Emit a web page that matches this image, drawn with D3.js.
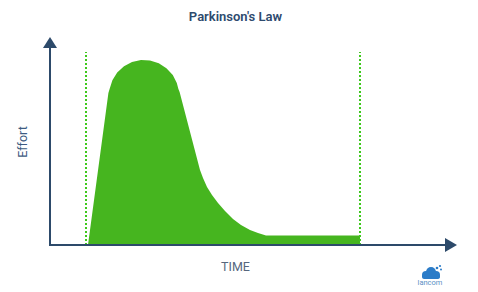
<!DOCTYPE html>
<html><head><meta charset="utf-8">
<script src="https://cdn.jsdelivr.net/npm/d3@7"></script>
<style>body{margin:0;background:#fff}svg{display:block}</style>
</head><body>
<svg id="c" width="478" height="292"></svg>
<script>
// Data (time units 0..100, effort units 0..100)
const time   = [9.5, 14.6, 14.9, 15.6, 16.8, 18.5, 20.5, 22.75, 25, 27.2, 29.1, 30.7, 31.7, 32.1, 32.4, 37.5, 38.25, 39.25, 40.5, 42, 43.75, 45.75, 47.75, 50, 52, 54, 77.5];
const effort = [0,   76,   78,   82.4, 86.25, 89.35, 91.45, 92.45, 92.25, 90.85, 88.4, 85, 81, 78, 76.5, 37.5, 33.5, 29, 25, 21, 17, 13, 10, 7.5, 6, 4.75, 4.75];
const deadlines = [9, 77.5];
const titleText = "Parkinson's Law";
const xLabel = "TIME";
const yLabel = "Effort";

const svg = d3.select("#c");
const x = d3.scaleLinear().domain([0, 100]).range([50, 450]);
const y = d3.scaleLinear().domain([0, 100]).range([245, 45]);
const axisColor = "#2d4a6a";

const pts = time.map((t, i) => ({t, e: effort[i]}));
svg.append("path")
  .datum(pts)
  .attr("fill", "#46b51f")
  .attr("d", d3.area().x(d => x(d.t)).y0(y(0)).y1(d => y(d.e)).curve(d3.curveLinear));

// deadlines
svg.selectAll("line.dl").data(deadlines).join("line")
  .attr("class", "dl")
  .attr("x1", d => x(d)).attr("x2", d => x(d))
  .attr("y1", y(0)).attr("y2", 52)
  .attr("stroke", "#3ec81c").attr("stroke-width", 2)
  .attr("stroke-dasharray", "2,2");

// axes
svg.append("line").attr("x1", x(0)).attr("x2", x(0)).attr("y1", y(0) + 1).attr("y2", 47)
  .attr("stroke", axisColor).attr("stroke-width", 2);
svg.append("path").attr("d", `M${x(0)-7},48 L${x(0)},37 L${x(0)+7},48 Z`).attr("fill", axisColor);
svg.append("line").attr("x1", x(0) - 1).attr("x2", 446).attr("y1", y(0)).attr("y2", y(0))
  .attr("stroke", axisColor).attr("stroke-width", 2);
svg.append("path").attr("d", `M445,${y(0)-7} L457,${y(0)} L445,${y(0)+7} Z`).attr("fill", axisColor);

// texts
svg.append("text").attr("x", 235.5).attr("y", 20.5).attr("text-anchor", "middle")
  .attr("font-family", "Roboto, sans-serif").attr("font-size", 13).attr("font-weight", 600)
  .attr("fill", "#2e4a6e").text(titleText);
svg.append("text").attr("transform", "translate(27,142) rotate(-90)").attr("text-anchor", "middle")
  .attr("font-family", "Roboto, sans-serif").attr("font-size", 12.5)
  .attr("fill", "#3d5b82").text(yLabel);
svg.append("text").attr("x", 235.5).attr("y", 271).attr("text-anchor", "middle")
  .attr("font-family", "Roboto, sans-serif").attr("font-size", 12.5)
  .attr("fill", "#56677e").text(xLabel);

// logo
const logo = svg.append("g").attr("fill", "#2b7cc8");
[[426,275,4],[431,272,5],[436,275,4]].forEach(c => logo.append("circle").attr("cx", c[0]).attr("cy", c[1]).attr("r", c[2]));
logo.append("rect").attr("x", 422).attr("y", 274).attr("width", 18).attr("height", 5).attr("rx", 2.5);
[[437,268,1.3],[440,266,1.1],[441,269.5,1]].forEach(c => logo.append("circle").attr("cx", c[0]).attr("cy", c[1]).attr("r", c[2]));
svg.append("text").attr("x", 430).attr("y", 285).attr("text-anchor", "middle")
  .attr("font-family", "Roboto, sans-serif").attr("font-size", 7.5).attr("fill", "#5b8fc4").text("lancom");
</script>
</body></html>
